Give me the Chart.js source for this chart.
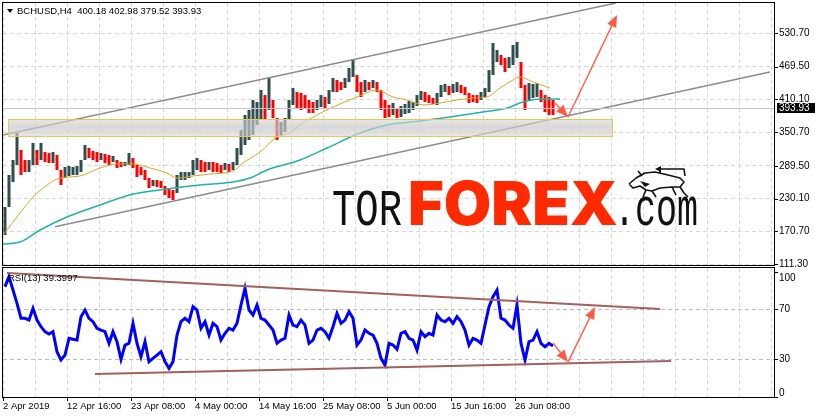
<!DOCTYPE html>
<html>
<head>
<meta charset="utf-8">
<title>BCHUSD H4</title>
<script src="https://cdn.jsdelivr.net/npm/chart.js"></script>
<style>
body { margin: 0; background: #fff; }
#wrap { position: relative; width: 815px; height: 419px; overflow: hidden; }
canvas { position: absolute; left: 0; }
#priceChart { top: 0; }
#rsiChart { top: 267px; }
</style>
</head>
<body>
<div id="wrap">
<canvas id="priceChart" width="815" height="267"></canvas>
<canvas id="rsiChart" width="815" height="152"></canvas>
</div>
<script>
// header + last bar
var symbolTitle = "BCHUSD,H4"
var lastBar = ["400.18", "402.98", "379.52", "393.93"]
var lastPrice = 393.93
var rsiTitle = "RSI(13) 39.3997"

// x axis (one unit = one H4 bar), labels every 64 bars
var timeLabels = ["2 Apr 2019", "12 Apr 16:00", "23 Apr 08:00", "4 May 00:00", "14 May 16:00",
    "25 May 08:00", "5 Jun 00:00", "15 Jun 16:00", "26 Jun 08:00"]
var priceTicks = [111.30, 170.70, 230.10, 289.50, 350.70, 410.10, 469.50, 530.70]
var rsiLevels = [30, 70]
var rsiBounds = [0, 100]

// candles grouped by 4 bars: high / low of each group
var candleHigh = [214.8, 272.9, 300.1, 349.1, 318.3, 300.1, 300.1, 331.0, 318.3, 331.0,
    314.6, 312.8, 314.6, 309.2, 282.0, 287.4, 289.2, 287.4, 289.2, 300.1,
    327.4, 321.9, 316.5, 314.6, 312.8, 311.0, 309.2, 307.4, 300.1, 296.5,
    296.5, 312.8, 303.8, 291.1, 287.4, 282.0, 267.4, 263.8, 263.8, 262.0,
    252.9, 249.3, 245.7, 272.9, 278.3, 278.3, 278.3, 300.1, 303.8, 300.1,
    296.5, 296.5, 296.5, 294.7, 291.1, 294.7, 292.9, 296.5, 321.9, 354.6,
    381.8, 390.9, 409.1, 405.4, 427.2, 418.1, 449.0, 409.1, 376.4, 369.1,
    376.4, 409.1, 430.8, 423.6, 421.8, 418.1, 409.1, 405.4, 409.1, 418.1,
    414.5, 427.2, 449.0, 445.4, 441.7, 449.0, 467.2, 481.7, 454.4, 441.7,
    445.4, 441.7, 445.4, 441.7, 427.2, 409.1, 400.0, 403.6, 394.5, 398.2,
    401.8, 407.2, 405.4, 418.1, 425.4, 423.6, 418.1, 412.7, 421.8, 436.3,
    438.1, 434.5, 438.1, 441.7, 436.3, 432.7, 421.8, 418.1, 418.1, 423.6,
    430.8, 463.5, 512.5, 499.8, 490.8, 485.3, 487.1, 508.9, 514.4, 478.1,
    436.3, 439.9, 438.1, 439.9, 427.2, 418.1, 414.5, 409.1]
var candleLow = [163.9, 214.8, 260.2, 291.1, 272.9, 278.3, 278.3, 291.1, 291.1, 300.1,
    296.5, 294.7, 294.7, 282.0, 254.7, 267.4, 271.1, 272.9, 272.9, 278.3,
    300.1, 303.8, 300.1, 296.5, 300.1, 294.7, 291.1, 296.5, 285.6, 287.4,
    289.2, 291.1, 285.6, 269.3, 272.9, 263.8, 249.3, 252.9, 251.1, 249.3,
    236.6, 231.1, 227.5, 240.2, 263.8, 263.8, 267.4, 272.9, 282.0, 278.3,
    278.3, 282.0, 278.3, 278.3, 276.5, 282.0, 278.3, 282.0, 291.1, 309.2,
    327.4, 336.4, 345.5, 363.7, 372.7, 372.7, 390.9, 376.4, 336.4, 345.5,
    350.9, 372.7, 400.0, 394.5, 390.9, 394.5, 385.5, 385.5, 390.9, 396.3,
    394.5, 401.8, 423.6, 423.6, 427.2, 430.8, 441.7, 450.8, 423.6, 414.5,
    423.6, 427.2, 430.8, 423.6, 390.9, 376.4, 378.2, 381.8, 376.4, 378.2,
    383.6, 385.5, 390.9, 398.2, 409.1, 405.4, 403.6, 401.8, 400.0, 414.5,
    423.6, 418.1, 421.8, 423.6, 421.8, 418.1, 403.6, 405.4, 403.6, 409.1,
    414.5, 423.6, 454.4, 478.1, 472.6, 459.9, 467.2, 472.6, 485.3, 430.8,
    390.9, 409.1, 412.7, 414.5, 405.4, 387.3, 381.8, 381.8]

var rsiValues = [88.1, 96.1, 85.4, 74.8, 62.8, 62.8, 61.4, 70.8, 61.4, 56.1,
    52.1, 50.2, 52.1, 36.1, 29.4, 33.4, 46.8, 46.0, 45.4, 64.1,
    69.4, 62.8, 60.1, 54.8, 53.4, 52.1, 42.8, 52.1, 44.1, 30.0,
    41.4, 42.8, 58.8, 42.8, 32.1, 44.1, 28.1, 30.8, 33.4, 36.1,
    28.1, 22.8, 28.1, 49.4, 60.1, 62.8, 60.1, 72.1, 69.4, 54.8,
    60.1, 49.4, 58.8, 56.1, 45.4, 50.8, 54.8, 53.4, 58.8, 73.4,
    86.8, 69.4, 65.4, 73.4, 62.8, 61.4, 57.4, 53.4, 42.8, 45.4,
    46.8, 65.4, 57.4, 56.1, 61.4, 57.4, 42.8, 45.4, 53.4, 54.8,
    52.1, 46.8, 56.1, 66.8, 58.8, 61.4, 68.1, 62.8, 41.4, 45.4,
    53.4, 50.8, 49.4, 42.8, 30.8, 25.4, 42.8, 41.4, 38.0, 50.8,
    52.1, 46.8, 45.4, 37.4, 52.1, 48.1, 50.8, 49.4, 65.4, 61.4,
    60.1, 62.8, 58.8, 64.1, 60.1, 53.4, 41.4, 46.8, 45.4, 42.8,
    57.4, 72.1, 80.1, 85.4, 62.8, 61.4, 57.4, 54.8, 73.4, 42.8,
    29.4, 44.1, 45.4, 52.1, 42.8, 40.1, 42.8, 40.6]

// moving averages (bar index / price)
var fastMaX = [0, 17, 30, 47, 57, 77, 97, 114, 130, 147, 164, 174, 190, 207, 230, 240, 257, 274,
    287, 297, 314, 330, 354, 374, 390, 404, 420, 437, 454, 470, 484, 497, 510, 517, 530, 547]
var fastMaY = [163.9, 203.9, 232.9, 258.4, 267.4, 271.1, 285.6, 292.9, 292.9, 285.6, 276.5, 267.4,
    271.1, 274.7, 280.1, 294.7, 314.6, 341.9, 349.1, 363.7, 381.8, 396.3, 414.5, 427.2, 414.5,
    409.1, 400.0, 403.6, 409.1, 412.7, 414.5, 430.8, 445.4, 450.8, 441.7, 430.8]
var slowMaX = [0, 17, 37, 64, 97, 130, 164, 197, 230, 247, 264, 297, 324, 357, 384, 417, 447, 480, 504, 520, 537, 557]
var slowMaY = [147.6, 151.2, 173.0, 196.6, 218.4, 238.4, 247.5, 254.7, 260.2, 267.4, 282.0,
    300.1, 321.9, 349.1, 363.7, 370.9, 378.2, 387.3, 394.5, 405.4, 410.9, 410.9]

// drawn objects
var upperChannelX = [0, 613], upperChannelY = [345.5, 585.2]
var lowerChannelX = [52, 767], lowerChannelY = [179.0, 459.9]
var zoneX = [5, 609], zoneY = [343.7, 374.6]
var priceArrowX = [552, 565, 614], priceArrowY = [403.6, 378.2, 563.4]
var rsiUpperX = [4, 657], rsiUpperY = [99.0, 70.2]
var rsiLowerX = [92, 668], rsiLowerY = [18.2, 28.6]
var rsiArrowX = [550, 565, 592], rsiArrowY = [43.0, 27.8, 71.8]

var barsPerGroup = 4
var barsPerGrid = 32
var barsVisible = 771

Chart.defaults.font.family = "'Liberation Sans', 'DejaVu Sans', sans-serif"
Chart.defaults.font.size = 10
Chart.defaults.color = '#000'

var gridSteps = []
for (var g = 0; g <= barsVisible; g += barsPerGrid) gridSteps.push(g)

function pts(xs, ys) {
    return xs.map(function (x, i) { return { x: x, y: ys[i] } })
}

var candleData = candleHigh.map(function (h, i) {
    return { x: barsPerGroup / 2 + barsPerGroup * i, y: [candleLow[i], h] }
})
var candleColors = candleHigh.map(function (h, i) {
    if (i === 0) return '#2f4f4f'
    var mid = (h + candleLow[i]) / 2
    var prev = (candleHigh[i - 1] + candleLow[i - 1]) / 2
    return mid >= prev ? '#2f4f4f' : '#ff0000'
})
var rsiData = rsiValues.map(function (v, i) {
    return { x: barsPerGroup / 2 + barsPerGroup * i, y: v }
})

function arrow(ctx, x1, y1, x2, y2) {
    var a = Math.atan2(y2 - y1, x2 - x1), len = 12, w = 5
    ctx.beginPath()
    ctx.moveTo(x1, y1)
    ctx.lineTo(x2 - Math.cos(a) * len * 0.7, y2 - Math.sin(a) * len * 0.7)
    ctx.stroke()
    ctx.beginPath()
    ctx.moveTo(x2, y2)
    ctx.lineTo(x2 - len * Math.cos(a) + w * Math.sin(a), y2 - len * Math.sin(a) - w * Math.cos(a))
    ctx.lineTo(x2 - len * Math.cos(a) - w * Math.sin(a), y2 - len * Math.sin(a) + w * Math.cos(a))
    ctx.closePath()
    ctx.fill()
}

function drawArrows(chart, xs, ys) {
    var ctx = chart.ctx, sx = chart.scales.x, sy = chart.scales.y
    ctx.save()
    ctx.strokeStyle = '#ff6452'
    ctx.fillStyle = '#ff5a48'
    ctx.lineWidth = 1.5
    for (var i = 1; i < xs.length; i++) {
        arrow(ctx, sx.getPixelForValue(xs[i - 1]), sy.getPixelForValue(ys[i - 1]),
            sx.getPixelForValue(xs[i]), sy.getPixelForValue(ys[i]))
    }
    ctx.restore()
}

function frame(chart) {
    var ctx = chart.ctx, a = chart.chartArea
    ctx.save()
    ctx.strokeStyle = '#000'
    ctx.lineWidth = 1
    ctx.strokeRect(a.left - 0.5, a.top - 0.5, a.right - a.left + 1, a.bottom - a.top + 1)
    ctx.restore()
}

function fitText(ctx, text, font, x, y, width) {
    ctx.save()
    ctx.font = font
    var w = ctx.measureText(text).width
    ctx.translate(x, y)
    ctx.scale(width / w, 1)
    ctx.fillText(text, 0, 0)
    ctx.restore()
}

// little running bull of the logo
function drawBull(ctx) {
    ctx.save()
    ctx.strokeStyle = '#111'
    ctx.fillStyle = '#111'
    ctx.lineWidth = 1.6
    ctx.lineJoin = 'round'
    ctx.beginPath()
    ctx.moveTo(629, 184)
    ctx.lineTo(636, 178)
    ctx.lineTo(645, 173)
    ctx.lineTo(655, 172)
    ctx.lineTo(668, 175)
    ctx.lineTo(680, 178)
    ctx.lineTo(684, 182)
    ctx.lineTo(680, 187)
    ctx.lineTo(684, 193)
    ctx.lineTo(688, 197)
    ctx.moveTo(680, 187)
    ctx.lineTo(672, 187)
    ctx.lineTo(676, 195)
    ctx.moveTo(672, 187)
    ctx.lineTo(660, 188)
    ctx.lineTo(652, 191)
    ctx.lineTo(656, 197)
    ctx.moveTo(652, 191)
    ctx.lineTo(646, 190)
    ctx.lineTo(643, 197)
    ctx.moveTo(646, 190)
    ctx.lineTo(640, 186)
    ctx.lineTo(633, 188)
    ctx.lineTo(629, 184)
    ctx.moveTo(642, 176)
    ctx.lineTo(638, 171)
    ctx.moveTo(660, 173)
    ctx.lineTo(660, 169)
    ctx.lineTo(684, 169)
    ctx.lineTo(685, 176)
    ctx.stroke()
    ctx.beginPath()
    ctx.moveTo(655, 169)
    ctx.lineTo(661, 166)
    ctx.lineTo(661, 172)
    ctx.closePath()
    ctx.fill()
    ctx.beginPath()
    ctx.moveTo(640, 181)
    ctx.lineTo(650, 184)
    ctx.lineTo(645, 187)
    ctx.closePath()
    ctx.fill()
    ctx.restore()
}

function noPad(s) {
    s.paddingTop = 0
    s.paddingBottom = 0
    s.paddingLeft = 0
    s.paddingRight = 0
}

var pricePanel = {
    id: 'pricePanel',
    beforeDatasetsDraw: function (chart) {
        var ctx = chart.ctx
        ctx.save()
        ctx.textBaseline = 'alphabetic'
        ctx.fillStyle = '#111'
        fitText(ctx, 'TOR', '52px "Liberation Mono"', 332, 225, 70)
        ctx.fillStyle = '#ff2a00'
        fitText(ctx, 'FOREX', '900 60px Inter', 408, 225, 210)
        ctx.fillStyle = '#111'
        fitText(ctx, '.com', '54px "Liberation Mono"', 614, 225, 84)
        ctx.restore()
        drawBull(ctx)
    },
    afterDatasetsDraw: function (chart) {
        var ctx = chart.ctx, sx = chart.scales.x, sy = chart.scales.y, a = chart.chartArea
        var x1 = sx.getPixelForValue(zoneX[0]), x2 = sx.getPixelForValue(zoneX[1])
        var y1 = sy.getPixelForValue(zoneY[1]), y2 = sy.getPixelForValue(zoneY[0])
        ctx.save()
        var grad = ctx.createLinearGradient(0, y1, 0, y2)
        grad.addColorStop(0, 'rgba(215,215,215,0.6)')
        grad.addColorStop(0.5, 'rgba(200,200,200,0.7)')
        grad.addColorStop(1, 'rgba(215,215,215,0.6)')
        ctx.fillStyle = grad
        ctx.fillRect(x1, y1, x2 - x1, y2 - y1)
        ctx.strokeStyle = '#f0c35a'
        ctx.lineWidth = 1
        ctx.strokeRect(Math.round(x1) + 0.5, Math.round(y1) + 0.5, Math.round(x2 - x1), Math.round(y2 - y1))
        var yb = Math.round(sy.getPixelForValue(lastPrice)) + 0.5
        ctx.strokeStyle = '#c8c8c8'
        ctx.beginPath()
        ctx.moveTo(a.left, yb)
        ctx.lineTo(a.right, yb)
        ctx.stroke()
        ctx.restore()
        drawArrows(chart, priceArrowX, priceArrowY)
    },
    afterDraw: function (chart) {
        var ctx = chart.ctx, sy = chart.scales.y, a = chart.chartArea
        frame(chart)
        ctx.save()
        ctx.strokeStyle = '#000'
        ctx.lineWidth = 1
        priceTicks.forEach(function (v) {
            var y = Math.round(sy.getPixelForValue(v)) + 0.5
            ctx.beginPath()
            ctx.moveTo(a.right, y)
            ctx.lineTo(a.right + 4, y)
            ctx.stroke()
        })
        // header
        ctx.fillStyle = '#000'
        ctx.beginPath()
        ctx.moveTo(7, 9)
        ctx.lineTo(13, 9)
        ctx.lineTo(10, 13)
        ctx.closePath()
        ctx.fill()
        ctx.font = "9.5px 'Liberation Sans'"
        ctx.textBaseline = 'middle'
        ctx.fillText(symbolTitle + '  ' + lastBar.join(' '), 17, 11)
        // last price box
        var yp = Math.round(sy.getPixelForValue(lastPrice))
        ctx.fillRect(a.right + 3, yp - 5, 815 - a.right - 3, 10)
        ctx.fillStyle = '#fff'
        ctx.font = "10px 'Liberation Sans'"
        ctx.fillText(lastPrice.toFixed(2), a.right + 5, yp + 0.5)
        ctx.restore()
    }
}

var rsiPanel = {
    id: 'rsiPanel',
    afterDatasetsDraw: function (chart) {
        drawArrows(chart, rsiArrowX, rsiArrowY)
    },
    afterDraw: function (chart) {
        var ctx = chart.ctx, sx = chart.scales.x, sy = chart.scales.y, a = chart.chartArea
        frame(chart)
        ctx.save()
        ctx.strokeStyle = '#000'
        ctx.lineWidth = 1
        timeLabels.forEach(function (t, i) {
            var x = Math.round(sx.getPixelForValue(i * barsPerGrid * 2)) + 0.5
            ctx.beginPath()
            ctx.moveTo(x, a.bottom)
            ctx.lineTo(x, a.bottom + 4)
            ctx.stroke()
        })
        rsiBounds.concat(rsiLevels).forEach(function (v) {
            var y = Math.round(sy.getPixelForValue(v)) + 0.5
            ctx.beginPath()
            ctx.moveTo(a.right, y)
            ctx.lineTo(a.right + 4, y)
            ctx.stroke()
        })
        ctx.fillStyle = '#000'
        ctx.font = "9.5px 'Liberation Sans'"
        ctx.textBaseline = 'middle'
        ctx.fillText(rsiTitle, 8, 11)
        ctx.font = "10px 'Liberation Sans'"
        ctx.textBaseline = 'top'
        ctx.fillText(String(rsiBounds[1]), a.right + 5, sy.getPixelForValue(rsiBounds[1]) + 1)
        ctx.textBaseline = 'bottom'
        ctx.fillText(String(rsiBounds[0]), a.right + 5, sy.getPixelForValue(rsiBounds[0]) + 1)
        ctx.restore()
    }
}

function xAxis(showLabels) {
    return {
        type: 'linear', min: 0, max: barsVisible, offset: false,
        afterBuildTicks: function (s) { s.ticks = gridSteps.map(function (v) { return { value: v } }) },
        ticks: {
            display: showLabels, autoSkip: false, maxRotation: 0, align: 'start', padding: 4,
            font: { size: 9.5 },
            callback: function (v) {
                return v % (barsPerGrid * 2) === 0 && timeLabels[v / (barsPerGrid * 2)] ? timeLabels[v / (barsPerGrid * 2)] : ''
            }
        },
        grid: { color: '#d8d8d8', drawTicks: false, offset: false },
        border: { display: false, dash: [4, 3] },
        afterFit: function (s) { s.height = showLabels ? 22 : 0; noPad(s) }
    }
}

var common = {
    responsive: false, animation: false, devicePixelRatio: 1, events: [],
    plugins: { legend: { display: false }, tooltip: { enabled: false } }
}

var priceChart = new Chart(document.getElementById('priceChart').getContext('2d'), {
    type: 'bar',
    data: {
        datasets: [
            { type: 'line', data: pts(upperChannelX, upperChannelY), borderColor: '#8c8c8c', borderWidth: 1.5, pointRadius: 0, order: 1 },
            { type: 'line', data: pts(lowerChannelX, lowerChannelY), borderColor: '#8c8c8c', borderWidth: 1.5, pointRadius: 0, order: 1 },
            { type: 'line', data: pts(fastMaX, fastMaY), borderColor: '#daa520', borderWidth: 1, pointRadius: 0, cubicInterpolationMode: 'monotone', order: 2 },
            { type: 'line', data: pts(slowMaX, slowMaY), borderColor: '#20b2aa', borderWidth: 1.5, pointRadius: 0, cubicInterpolationMode: 'monotone', order: 3 },
            { type: 'bar', data: candleData, backgroundColor: candleColors, borderWidth: 0, barPercentage: 0.75, categoryPercentage: 1, order: 4 }
        ]
    },
    options: Object.assign({}, common, {
        layout: { padding: { left: 3, top: 3, right: 0, bottom: 2 } },
        scales: {
            x: xAxis(false),
            y: {
                position: 'right', min: 109.5, max: 585.2,
                afterBuildTicks: function (s) { s.ticks = priceTicks.map(function (v) { return { value: v } }) },
                ticks: { padding: 5, callback: function (v) { return v.toFixed(2) } },
                grid: { color: '#d8d8d8', drawTicks: false },
                border: { display: false, dash: [4, 3] },
                afterFit: function (s) { s.width = 41; noPad(s) }
            }
        }
    }),
    plugins: [pricePanel]
})

var rsiChart = new Chart(document.getElementById('rsiChart').getContext('2d'), {
    type: 'line',
    data: {
        datasets: [
            { data: pts(rsiUpperX, rsiUpperY), borderColor: '#a3605c', borderWidth: 2, pointRadius: 0, order: 1 },
            { data: pts(rsiLowerX, rsiLowerY), borderColor: '#a3605c', borderWidth: 2, pointRadius: 0, order: 1 },
            { data: rsiData, borderColor: '#0000ff', borderWidth: 3, pointRadius: 0, tension: 0, order: 2 }
        ]
    },
    options: Object.assign({}, common, {
        layout: { padding: { left: 3, top: 1, right: 0, bottom: 0 } },
        scales: {
            x: xAxis(true),
            y: {
                position: 'right', min: -0.16, max: 103.04,
                afterBuildTicks: function (s) { s.ticks = rsiLevels.map(function (v) { return { value: v } }) },
                ticks: { padding: 5, callback: function (v) { return String(v) } },
                grid: { color: '#bdbdbd', drawTicks: false },
                border: { display: false, dash: [4, 3] },
                afterFit: function (s) { s.width = 41; noPad(s) }
            }
        }
    }),
    plugins: [rsiPanel]
})
</script>
</body>
</html>
